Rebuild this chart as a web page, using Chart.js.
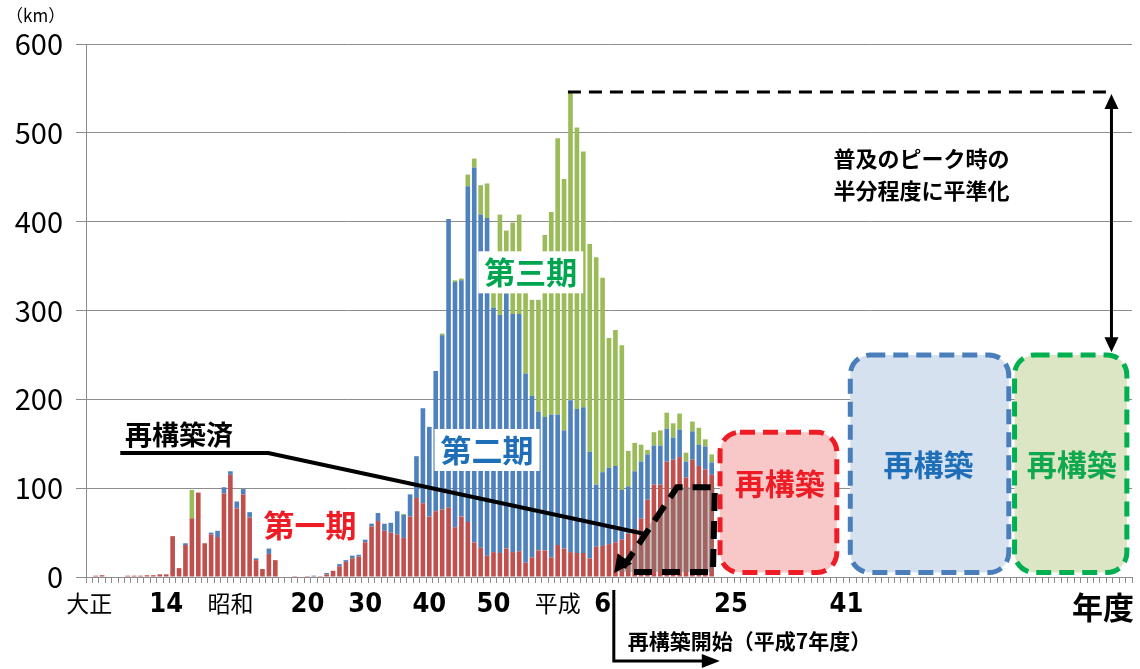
<!DOCTYPE html>
<html>
<head>
<meta charset="utf-8">
<script src="https://cdn.jsdelivr.net/npm/chart.js@4"></script>
<style>
  html, body { margin: 0; padding: 0; background: #fff; }
</style>
</head>
<body>
<canvas id="chart" width="1140" height="669"></canvas>
<script>
// one category per fiscal year, first one left empty
const categories = Array.from({ length: 163 }, (_, i) => String(i));

const phase1 = [0,
  1.5, 2, 0, 0, 0, 1.5, 1.5, 1.5, 2, 2,
  3, 3, 46, 10, 36, 66, 95, 38, 48, 45,
  94, 115, 77, 93, 67, 19, 9, 26, 19, 0,
  0, 1, 0, 1, 0, 1, 3, 7, 12, 17,
  21, 23, 39, 57, 63, 52, 50, 48, 44, 68,
  89, 83, 68, 74, 76, 78, 56, 68, 62, 39,
  33, 24, 28, 27, 32, 28, 29, 16, 22, 30,
  30, 22, 36, 32, 28, 27, 27, 21, 34, 35,
  37, 39, 42, 49, 54, 66, 87, 104, 104, 130,
  132, 135, 112, 132, 125, 121, 115];

const phase2 = [0,
  0, 0, 0, 0, 0, 0, 0, 0, 0, 0,
  0, 0, 0, 0, 2, 0, 0, 0, 2, 7,
  7, 4, 8, 6, 6, 2, 0, 6, 0, 0,
  0, 0, 0, 0, 1.5, 0, 1.5, 0, 2.5, 2,
  3, 2, 3, 3, 9, 8, 11, 26, 26, 25,
  47, 107, 101, 158, 196, 325, 276, 266, 378, 422,
  375, 380, 275, 268, 287, 268, 267, 213, 182, 156,
  150, 161, 147, 133, 171, 162, 164, 120, 70, 83,
  86, 86, 56, 53, 65, 64, 51, 44, 44, 37,
  25, 31, 18, 32, 24, 26, 14];

const phase3 = [0,
  0, 0, 0, 0, 0, 0, 0, 0, 0, 0,
  0, 0, 0, 0, 0, 32, 0, 0, 0, 0,
  0, 0, 0, 0, 0, 0, 0, 0, 0, 0,
  0, 0, 0, 0, 0, 0, 0, 0, 0, 0,
  0, 0, 0, 0, 0, 0, 0, 0, 1, 0,
  0, 0, 0, 0, 2, 0, 2, 2, 13, 10,
  33, 39, 37, 113, 71, 103, 112, 116, 108, 126,
  205, 228, 311, 283, 347, 317, 288, 234, 256, 219,
  146, 153, 163, 40, 32, 19, 5, 15, 17, 18,
  16, 18, 10, 11, 19, 8, 9];

const yTicks = [0, 100, 200, 300, 400, 500, 600];
const tickIndex = [0, 12, 22, 34, 43, 53, 63, 73, 80, 100, 118, 158];
const tickText = ['大正', '14', '昭和', '20', '30', '40', '50', '平成', '6', '25', '41', '年度'];

const peakValue = 546;
const futureTop = [163, 250, 250];

const JP = '"Noto Sans CJK JP", "Noto Sans", sans-serif';
const NARROW = '"DejaVu Sans Condensed", "Liberation Sans Narrow", "Noto Sans CJK JP", sans-serif';

function arrowHead(ctx, tx, ty, fromX, fromY, len, half) {
  const a = Math.atan2(ty - fromY, tx - fromX);
  ctx.beginPath();
  ctx.moveTo(tx, ty);
  ctx.lineTo(tx - len * Math.cos(a) + half * Math.sin(a), ty - len * Math.sin(a) - half * Math.cos(a));
  ctx.lineTo(tx - len * Math.cos(a) - half * Math.sin(a), ty - len * Math.sin(a) + half * Math.cos(a));
  ctx.closePath();
  ctx.fill();
}

function label(ctx, str, px, py, font, color, bg) {
  ctx.font = font;
  ctx.textAlign = 'center';
  ctx.textBaseline = 'middle';
  if (bg) {
    const w = ctx.measureText(str).width + 12;
    ctx.fillStyle = '#fff';
    ctx.fillRect(px - w / 2, py - 21, w, 42);
  }
  ctx.fillStyle = color;
  ctx.fillText(str, px, py);
}

const overlay = {
  id: 'overlay',
  afterDatasetsDraw(chart) {
    const { ctx, scales: { x, y } } = chart;
    const X = i => x.getPixelForValue(i);
    const Y = v => y.getPixelForValue(v);
    ctx.save();

    // rebuilt part (shaded trapezoid)
    ctx.beginPath();
    ctx.moveTo(X(81.9), Y(5.6));
    ctx.lineTo(X(91.6), Y(101));
    ctx.lineTo(X(97.5), Y(101));
    ctx.lineTo(X(97.2), Y(5.6));
    ctx.closePath();
    ctx.fillStyle = 'rgba(128,122,122,0.45)';
    ctx.fill();
    ctx.beginPath();
    ctx.moveTo(X(83.2), Y(11));
    ctx.lineTo(X(91.6), Y(101));
    ctx.lineTo(X(97.5), Y(101));
    ctx.lineTo(X(97.2), Y(5.6));
    ctx.lineTo(X(84.8), Y(5.6));
    ctx.setLineDash([18, 10]);
    ctx.lineWidth = 6;
    ctx.strokeStyle = '#000';
    ctx.stroke();
    ctx.setLineDash([]);
    ctx.fillStyle = '#000';
    arrowHead(ctx, X(81.8), Y(4.5), X(91.6), Y(101), 18, 9);

    // callout
    ctx.beginPath();
    ctx.moveTo(X(4.84), Y(139.6));
    ctx.lineTo(X(27.9), Y(139.6));
    ctx.lineTo(X(86.6), Y(48.4));
    ctx.lineWidth = 4;
    ctx.stroke();
    label(ctx, '再構築済', X(14), Y(160), 'bold 27px ' + JP, '#000');

    // period names
    label(ctx, '第一期', X(34.4), Y(58.5), 'bold 31px ' + JP, '#ee1c24');
    label(ctx, '第二期', X(62), Y(143), 'bold 31px ' + JP, '#1e6eb8', true);
    label(ctx, '第三期', X(68.8), Y(343), 'bold 31px ' + JP, '#00a550', true);

    // future reconstruction boxes
    const boxes = [
      { x0: 98.3, x1: 116.5, top: futureTop[0], fill: '#f8c8c8', line: '#ee1c24', text: '#ee1c24', tx: 107.6, tv: 104.7 },
      { x0: 118.6, x1: 143.3, top: futureTop[1], fill: '#d6e1ef', line: '#4a7ebb', text: '#1e6eb8', tx: 130.8, tv: 126 },
      { x0: 144.2, x1: 161.7, top: futureTop[2], fill: '#dce6c4', line: '#00b050', text: '#10a84e', tx: 153.1, tv: 126 }
    ];
    boxes.forEach(b => {
      const l = X(b.x0), r = X(b.x1), t = Y(b.top), bt = Y(5);
      ctx.beginPath();
      ctx.roundRect(l, t, r - l, bt - t, 20);
      ctx.fillStyle = b.fill;
      ctx.fill();
      ctx.setLineDash([15, 8]);
      ctx.lineWidth = 5;
      ctx.strokeStyle = b.line;
      ctx.stroke();
      ctx.setLineDash([]);
      label(ctx, '再構築', X(b.tx), Y(b.tv), 'bold 30px ' + JP, b.text);
    });

    // peak line and levelling arrow
    const ax = X(159.3);
    ctx.strokeStyle = '#000';
    ctx.fillStyle = '#000';
    ctx.beginPath();
    ctx.moveTo(X(74.6), Y(peakValue));
    ctx.lineTo(ax + 2, Y(peakValue));
    ctx.setLineDash([13, 8]);
    ctx.lineWidth = 3;
    ctx.stroke();
    ctx.setLineDash([]);
    ctx.beginPath();
    ctx.moveTo(ax, Y(peakValue) + 14);
    ctx.lineTo(ax, Y(futureTop[1] + 3) - 14);
    ctx.lineWidth = 3;
    ctx.stroke();
    arrowHead(ctx, ax, Y(peakValue) + 2, ax, Y(300), 15, 7);
    arrowHead(ctx, ax, Y(futureTop[1] + 3), ax, Y(500), 15, 7);
    label(ctx, '普及のピーク時の', X(129.7), Y(470.5), 'bold 22px ' + JP, '#000');
    label(ctx, '半分程度に平準化', X(129.7), Y(434.5), 'bold 22px ' + JP, '#000');
    ctx.restore();
  },
  afterDraw(chart) {
    const { ctx, scales: { x }, chartArea } = chart;
    const sx = x.getPixelForValue(81.75);
    const ly = chartArea.bottom + 84;
    ctx.save();
    ctx.strokeStyle = '#000';
    ctx.fillStyle = '#000';
    ctx.lineWidth = 3;
    ctx.beginPath();
    ctx.moveTo(sx, chartArea.bottom + 13);
    ctx.lineTo(sx, ly);
    ctx.lineTo(sx + 92, ly);
    ctx.stroke();
    arrowHead(ctx, sx + 106, ly, sx, ly, 18, 7);
    ctx.font = 'bold 21px ' + JP;
    ctx.textAlign = 'left';
    ctx.textBaseline = 'middle';
    ctx.fillText('再構築開始（平成7年度）', sx + 14, chartArea.bottom + 64);
    ctx.font = '17px ' + JP;
    ctx.fillText('（km）', 6, 16);
    ctx.restore();
  }
};

new Chart(document.getElementById('chart'), {
  type: 'bar',
  data: {
    labels: categories,
    datasets: [
      { label: '第一期', data: phase1, backgroundColor: '#C0504D' },
      { label: '第二期', data: phase2, backgroundColor: '#4F81BD' },
      { label: '第三期', data: phase3, backgroundColor: '#9BBB59' }
    ]
  },
  options: {
    responsive: false,
    animation: false,
    devicePixelRatio: 1,
    layout: { padding: { top: 44, right: 8, left: 0, bottom: 0 } },
    datasets: { bar: { barPercentage: 0.72, categoryPercentage: 1 } },
    plugins: { legend: { display: false }, tooltip: { enabled: false } },
    scales: {
      x: {
        stacked: true,
        grid: { drawOnChartArea: false, drawTicks: true, tickLength: 6, color: '#8c8c8c', offset: true },
        border: { color: '#8c8c8c' },
        ticks: {
          autoSkip: false, maxRotation: 0, minRotation: 0, padding: 6, color: '#000',
          callback: (v, i) => {
            const k = tickIndex.indexOf(i);
            return k < 0 ? '' : tickText[k];
          },
          font: c => {
            const k = tickIndex.indexOf(c.index);
            const t = k < 0 ? '' : tickText[k];
            if (t === '年度') return { family: JP, size: 31, weight: 'bold' };
            if (/^\d+$/.test(t)) return { family: NARROW, size: 27, weight: 'bold' };
            return { family: JP, size: 23 };
          }
        },
        afterFit: s => { s.height = 92; }
      },
      y: {
        stacked: true,
        min: 0,
        max: 600,
        afterBuildTicks: s => { s.ticks = yTicks.map(v => ({ value: v })); },
        ticks: { padding: 13, color: '#000', font: { family: JP, size: 29 } },
        grid: { color: '#8c8c8c', tickLength: 10 },
        border: { color: '#8c8c8c' },
        afterFit: s => { s.width = 86; }
      }
    }
  },
  plugins: [overlay]
});
</script>
</body>
</html>
